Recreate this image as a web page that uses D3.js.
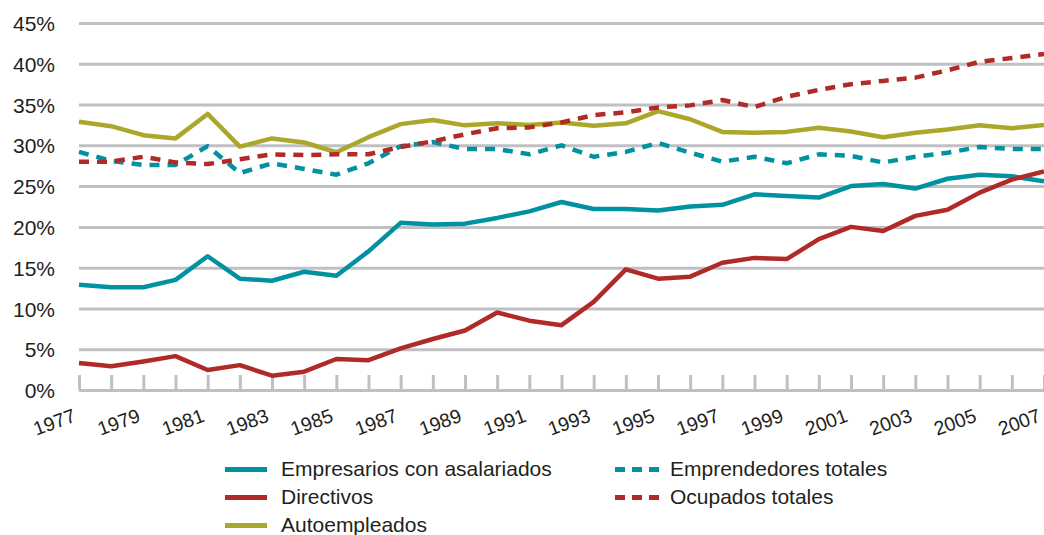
<!DOCTYPE html>
<html>
<head>
<meta charset="utf-8">
<script src="https://cdn.jsdelivr.net/npm/d3@7"></script>
<style>
  body { margin: 0; background: #fff; }
  text { font-family: "Liberation Sans", Arial, sans-serif; fill: #231f20; }
</style>
</head>
<body>
<div id="chart"></div>
<script>
//data (% values)
var years = d3.range(1977, 2008);
var empresarios = [12.9, 12.6, 12.6, 13.5, 16.4, 13.65, 13.4, 14.5, 14.0, 17.0, 20.5, 20.3, 20.4, 21.1, 21.9, 23.05, 22.2, 22.2, 22.0, 22.5, 22.7, 24.0, 23.8, 23.6, 25.0, 25.25, 24.7, 25.9, 26.4, 26.2, 25.6];
var directivos = [3.3, 2.9, 3.5, 4.15, 2.45, 3.05, 1.75, 2.25, 3.8, 3.65, 5.1, 6.25, 7.3, 9.5, 8.5, 7.95, 10.8, 14.8, 13.65, 13.9, 15.6, 16.2, 16.05, 18.5, 20.0, 19.5, 21.35, 22.1, 24.2, 25.8, 26.8];
var autoempleados = [32.9, 32.35, 31.25, 30.85, 33.85, 29.85, 30.85, 30.35, 29.15, 31.0, 32.6, 33.1, 32.45, 32.7, 32.5, 32.8, 32.4, 32.7, 34.2, 33.2, 31.65, 31.55, 31.65, 32.15, 31.7, 31.0, 31.55, 31.95, 32.45, 32.1, 32.5];
var emprendedores = [29.2, 28.1, 27.6, 27.6, 29.9, 26.6, 27.8, 27.1, 26.4, 27.8, 29.9, 30.4, 29.55, 29.55, 28.9, 30.0, 28.6, 29.2, 30.3, 29.1, 28.0, 28.6, 27.8, 28.9, 28.7, 27.9, 28.6, 29.1, 29.8, 29.55, 29.55];
var ocupados = [28.0, 28.0, 28.6, 27.9, 27.7, 28.3, 28.9, 28.8, 28.9, 28.9, 29.8, 30.5, 31.35, 32.1, 32.2, 32.8, 33.7, 34.05, 34.65, 34.9, 35.55, 34.7, 35.95, 36.8, 37.5, 37.9, 38.3, 39.2, 40.25, 40.7, 41.2];
var yTicks = [0, 5, 10, 15, 20, 25, 30, 35, 40, 45];
var xLabels = d3.range(1977, 2008, 2);

var seriesNames = ["Empresarios con asalariados", "Directivos", "Autoempleados", "Emprendedores totales", "Ocupados totales"];
var seriesColors = ["#0092a0", "#b02a28", "#aaa72a", "#0092a0", "#b02a28"];
var seriesDashed = [false, false, false, true, true];
var seriesValues = [empresarios, directivos, autoempleados, emprendedores, ocupados];

//set margins and size of graph
var margin = {top: 23, right: 0, bottom: 145, left: 79},
  width = 1044 - margin.left - margin.right,
  height = 535 - margin.top - margin.bottom;

var x = d3.scaleLinear().domain([1977, 2007]).range([0, width]);
var y = d3.scaleLinear().domain([0, 45]).range([height, 0]);

var svg = d3.select("#chart").append("svg")
    .attr("width", 1044)
    .attr("height", 535)
  .append("g")
    .attr("transform", "translate(" + margin.left + "," + margin.top + ")");

//gridlines + y labels
var yAxis = svg.append("g")
    .call(d3.axisLeft(y).tickValues(yTicks).tickSize(-width).tickFormat(function(d) { return d + "%"; }));
yAxis.select(".domain").remove();
yAxis.selectAll(".tick line").attr("stroke", "#c0c0c4").attr("stroke-width", 3);
yAxis.selectAll(".tick text")
    .attr("x", -24)
    .attr("dy", "0.36em")
    .style("font-size", "21px")
    .style("font-family", "Liberation Sans, Arial, sans-serif")
    .attr("fill", "#231f20");

//x-axis with ticks pointing up
var xAxis = svg.append("g")
    .attr("transform", "translate(0," + height + ")")
    .call(d3.axisBottom(x).tickValues(years).tickSize(-15).tickSizeOuter(0).tickFormat(""));
xAxis.select(".domain").attr("stroke", "#c0c0c4").attr("stroke-width", 3);
xAxis.selectAll(".tick line").attr("stroke", "#c0c0c4").attr("stroke-width", 3);

svg.append("g").selectAll("text")
    .data(xLabels)
  .enter().append("text")
    .attr("transform", function(d) { return "translate(" + (x(d) - 2) + "," + (height + 31) + ") rotate(-20)"; })
    .attr("text-anchor", "end")
    .style("font-size", "19.5px")
    .text(function(d) { return d; });

//define the line
var line = d3.line()
    .x(function(d, i) { return x(years[i]); })
    .y(function(d) { return y(d); });

seriesValues.forEach(function(vals, i) {
  svg.append("path")
     .datum(vals)
     .attr("fill", "none")
     .attr("stroke", seriesColors[i])
     .attr("stroke-width", 4.5)
     .attr("stroke-linejoin", "round")
     .attr("stroke-dasharray", seriesDashed[i] ? "10,8" : null)
     .attr("d", line);
});

//legend
var legPos = [[225, 476], [225, 504], [225, 532], [615, 476], [615, 504]];
var legend = d3.select("svg").append("g");
seriesNames.forEach(function(name, i) {
  var p = legPos[i];
  if (seriesDashed[i]) {
    [0, 17, 34].forEach(function(o) {
      legend.append("rect")
        .attr("x", p[0] + o).attr("y", p[1] - 9)
        .attr("width", 10).attr("height", 5)
        .attr("fill", seriesColors[i]);
    });
  } else {
    legend.append("line")
      .attr("x1", p[0]).attr("x2", p[0] + 42)
      .attr("y1", p[1] - 6.5).attr("y2", p[1] - 6.5)
      .attr("stroke", seriesColors[i])
      .attr("stroke-width", 5);
  }
  legend.append("text")
    .attr("x", p[0] + (seriesDashed[i] ? 55 : 56))
    .attr("y", p[1])
    .style("font-size", "21px")
    .text(name);
});
</script>
</body>
</html>
